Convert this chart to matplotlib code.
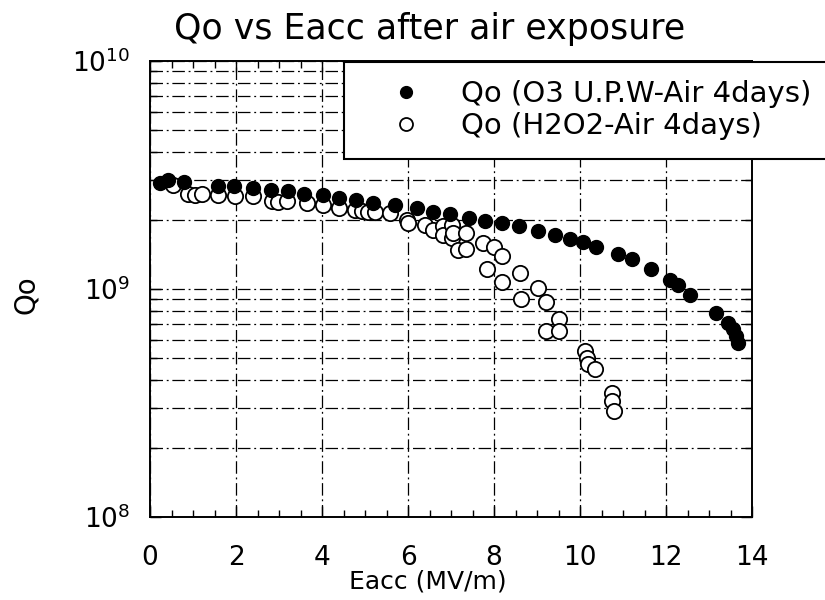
import numpy as np
import matplotlib.pyplot as plt
from matplotlib.ticker import LogLocator, MultipleLocator, NullFormatter

# Qo (O3 U.P.W-Air 4days) -- filled dots
eacc_o3 = [0.23, 0.43, 0.80, 1.59, 1.96, 2.40, 2.81, 3.20, 3.58, 4.02, 4.40,
           4.79, 5.18, 5.70, 6.20, 6.59, 6.98, 7.43, 7.79, 8.19, 8.58, 9.03,
           9.42, 9.77, 10.08, 10.37, 10.88, 11.20, 11.65, 12.09, 12.29, 12.56,
           13.16, 13.44, 13.56, 13.63, 13.68]
qo_o3 = [2.93e9, 3.01e9, 2.96e9, 2.82e9, 2.84e9, 2.77e9, 2.72e9, 2.70e9, 2.62e9,
         2.59e9, 2.51e9, 2.45e9, 2.38e9, 2.34e9, 2.26e9, 2.18e9, 2.13e9, 2.05e9,
         1.98e9, 1.94e9, 1.88e9, 1.79e9, 1.73e9, 1.66e9, 1.60e9, 1.53e9, 1.43e9,
         1.35e9, 1.22e9, 1.10e9, 1.04e9, 9.37e8, 7.87e8, 7.06e8, 6.65e8, 6.21e8,
         5.77e8]

# Qo (H2O2-Air 4days) -- open circles
eacc_h2o2 = [0.53, 0.89, 1.05, 1.20, 1.59, 1.98, 2.40, 2.83, 2.98, 3.18, 3.64,
             4.02, 4.40, 4.77, 4.92, 5.08, 5.23, 5.58, 5.97, 6.00, 6.40, 6.59,
             6.82, 6.82, 7.02, 7.02, 7.05, 7.16, 7.35, 7.35, 7.75, 8.00, 8.19,
             7.83, 8.19, 8.60, 8.63, 9.02, 9.21, 9.50, 9.22, 9.50, 10.12, 10.16,
             10.19, 10.35, 10.74, 10.74, 10.79]
qo_h2o2 = [2.85e9, 2.61e9, 2.59e9, 2.61e9, 2.59e9, 2.57e9, 2.57e9, 2.42e9, 2.41e9,
           2.42e9, 2.38e9, 2.34e9, 2.27e9, 2.23e9, 2.19e9, 2.18e9, 2.17e9, 2.16e9,
           2.01e9, 1.95e9, 1.91e9, 1.82e9, 1.88e9, 1.72e9, 1.67e9, 1.91e9, 1.76e9,
           1.49e9, 1.76e9, 1.50e9, 1.59e9, 1.53e9, 1.40e9, 1.23e9, 1.07e9, 1.18e9,
           9.06e8, 1.01e9, 8.75e8, 7.36e8, 6.53e8, 6.53e8, 5.35e8, 5.00e8, 4.68e8,
           4.45e8, 3.51e8, 3.23e8, 2.92e8]

plt.rcParams['font.family'] = ['DejaVu Sans']

fig = plt.figure(figsize=(8.25, 6), dpi=100)
ax = fig.add_axes([150 / 825, 1 - 517 / 600, 602 / 825, 456 / 600])

ax.set_yscale('log')
ax.set_xlim(0, 14)
ax.set_ylim(1e8, 1e10)

ax.plot(eacc_o3, qo_o3, 'o', color='black', markersize=10, linestyle='none',
        label='Qo (O3 U.P.W-Air 4days)', zorder=3)
ax.plot(eacc_h2o2, qo_h2o2, 'o', markerfacecolor='white', markeredgecolor='black',
        markeredgewidth=1.3, markersize=11, linestyle='none',
        label='Qo (H2O2-Air 4days)', zorder=2)

ax.xaxis.set_major_locator(MultipleLocator(2))
ax.xaxis.set_minor_locator(MultipleLocator(0.5))
ax.yaxis.set_major_locator(LogLocator(base=10))
ax.yaxis.set_minor_locator(LogLocator(base=10, subs=np.arange(2, 10)))
ax.yaxis.set_minor_formatter(NullFormatter())

ax.tick_params(which='both', direction='in', top=True, right=True, width=1.0)
ax.tick_params(which='major', length=8, labelsize=19)
ax.tick_params(which='minor', length=5)
ax.tick_params(axis='x', which='major', pad=20)
ax.tick_params(axis='y', which='major', pad=14)

dashdot = (0, (10, 3, 1.5, 3))
ax.grid(True, which='major', axis='x', color='black', linewidth=0.9, linestyle=dashdot)
ax.grid(True, which='both', axis='y', color='black', linewidth=0.9, linestyle=dashdot)
ax.set_axisbelow(True)

for sp in ax.spines.values():
    sp.set_linewidth(1.4)

ax.set_xlabel('Eacc (MV/m)', fontsize=18)
ax.xaxis.set_label_coords(0.462, -0.116)
ax.set_ylabel('Qo', fontsize=20)
ax.yaxis.set_label_coords(-0.183, 0.487)
ax.set_title('Qo vs Eacc after air exposure', fontsize=25, pad=16, x=0.465)

leg = fig.legend(loc='upper left', bbox_to_anchor=(344 / 825, 1 - 62 / 600, 500 / 825, 0.0),
                 mode='expand', borderaxespad=0, fontsize=21, frameon=True, fancybox=False,
                 framealpha=1, facecolor='white', borderpad=0.62, labelspacing=0.15,
                 handlelength=3.0, handletextpad=0.4, markerscale=0.85)
leg.get_frame().set_edgecolor('black')
leg.get_frame().set_linewidth(1.5)

fig.savefig('out.png', dpi=100)
